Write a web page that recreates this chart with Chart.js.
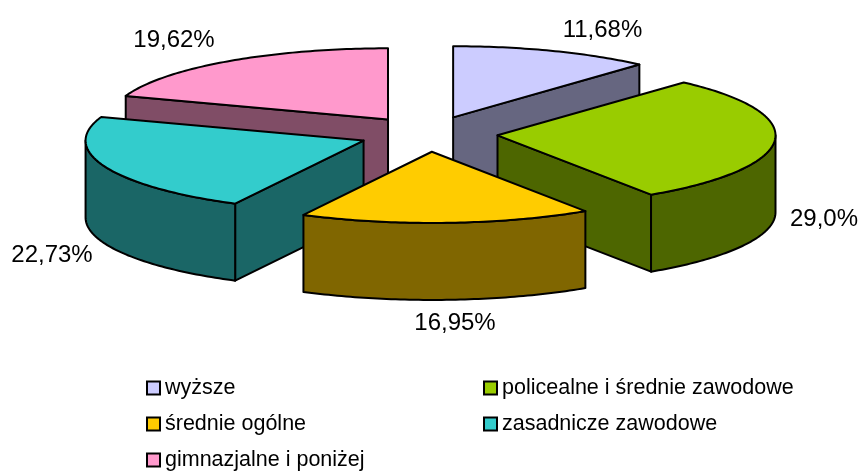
<!DOCTYPE html>
<html lang="pl">
<head>
<meta charset="utf-8">
<style>html,body{margin:0;padding:0;background:#fff}canvas{display:block}</style>
<script src="https://cdn.jsdelivr.net/npm/chart.js@4/dist/chart.umd.min.js"></script>
</head>
<body>
<canvas id="c" width="861" height="473"></canvas>
<script>
const categories = ["wyższe","policealne i średnie zawodowe","średnie ogólne","zasadnicze zawodowe","gimnazjalne i poniżej"];
const shares = [11.68,29.0,16.95,22.73,19.62];
const shareLabels = ["11,68%","29,0%","16,95%","22,73%","19,62%"];
const topColors = ["#CCCCFF","#99CC00","#FFCC00","#33CCCC","#FF99CC"];
const wallColors = ["#666680","#4D6600","#806600","#1A6666","#804D66"];

const view = {cx:428.2, cy:134, radius:278, squash:0.256, depth:77};
const labelSpots = [[602.5,30.5],[824,219.5],[455,323],[52,255],[174,40.5]];
const legendSpots = [[147,388.5],[484,388.5],[147,424.5],[484,424.5],[147,460.5]];

const pie3d = {
  id:'pie3d',
  beforeDatasetsDraw(chart){
    const ctx = chart.ctx, arcs = chart.getDatasetMeta(0).data;
    const slices = arcs.map((arc,i)=>{
      const p = arc.getProps(['x','y','startAngle','endAngle','outerRadius'],true);
      const f = view.radius/p.outerRadius, mid=(p.startAngle+p.endAngle)/2, off=arc.options.offset*f;
      const ax = view.cx+Math.cos(mid)*off, ay = view.cy+Math.sin(mid)*off*view.squash;
      const at = a=>[ax+Math.cos(a)*view.radius, ay+Math.sin(a)*view.radius*view.squash];
      return {i,s:p.startAngle,e:p.endAngle,ax,ay,at};
    }).sort((a,b)=>a.ay-b.ay);
    ctx.save();
    ctx.lineWidth=2; ctx.lineJoin='round'; ctx.strokeStyle='#000';
    const poly=(pts,fill)=>{
      ctx.beginPath(); pts.forEach((q,k)=>k?ctx.lineTo(q[0],q[1]):ctx.moveTo(q[0],q[1]));
      ctx.closePath(); ctx.fillStyle=fill; ctx.fill(); ctx.stroke();
    };
    const sweep=(at,a,b)=>{const n=Math.max(2,Math.ceil(Math.abs(b-a)*60)),o=[];
      for(let k=0;k<=n;k++)o.push(at(a+(b-a)*k/n));return o;};
    const d=view.depth;
    for(const S of slices){
      const wall=wallColors[S.i], A=[S.ax,S.ay];
      const quad=(B)=>poly([A,B,[B[0],B[1]+d],[A[0],A[1]+d]],wall);
      if(-Math.cos(S.s)>1e-6) quad(S.at(S.s));
      if(Math.cos(S.e)>1e-6) quad(S.at(S.e));
      const from=Math.max(S.s,0), to=Math.min(S.e,Math.PI);
      if(to>from){
        const rim=sweep(S.at,from,to);
        poly(rim.concat(rim.slice().reverse().map(q=>[q[0],q[1]+d])),wall);
      }
      poly([A].concat(sweep(S.at,S.s,S.e)),topColors[S.i]);
    }
    ctx.restore();
    return false;
  },
  afterDraw(chart){
    const ctx=chart.ctx;
    ctx.save();
    ctx.fillStyle='#000'; ctx.textBaseline='middle';
    ctx.font='24px "Liberation Sans"'; ctx.textAlign='center';
    shareLabels.forEach((t,i)=>ctx.fillText(t,labelSpots[i][0],labelSpots[i][1]));
    ctx.font='21.5px "Liberation Sans"'; ctx.textAlign='left';
    categories.forEach((t,i)=>{
      const [x,y]=legendSpots[i];
      ctx.fillStyle=topColors[i]; ctx.strokeStyle='#000'; ctx.lineWidth=2;
      ctx.fillRect(x,y-7,13,13); ctx.strokeRect(x,y-7,13,13);
      ctx.fillStyle='#000'; ctx.fillText(t,x+18,y);
    });
    ctx.restore();
  }
};

new Chart(document.getElementById('c'),{
  type:'pie',
  data:{labels:categories,datasets:[{data:shares,backgroundColor:topColors,offset:50,borderWidth:0}]},
  options:{
    responsive:false,animation:false,radius:200,
    plugins:{legend:{display:false},tooltip:{enabled:false}}
  },
  plugins:[pie3d]
});
</script>
</body>
</html>
